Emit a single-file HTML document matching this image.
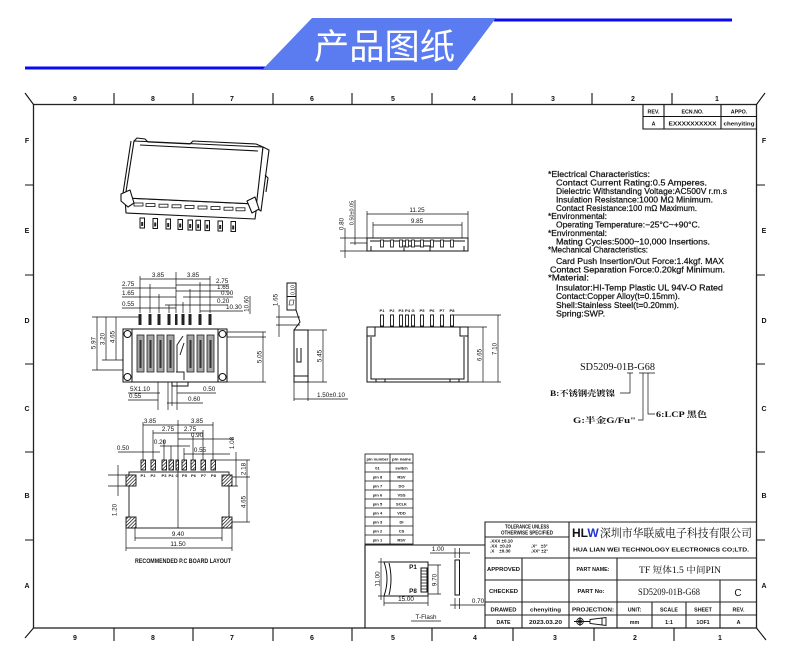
<!DOCTYPE html>
<html><head><meta charset="utf-8">
<style>
html,body{margin:0;padding:0;background:#fff;}
svg{display:block;}
text{font-family:"Liberation Sans","Noto Sans CJK SC",sans-serif;fill:#111;}
.d{font-size:6.3px;}
.s{font-size:8px;}
.s text{stroke:#111;stroke-width:0.22;}
.t{font-size:5.3px;font-weight:bold;text-anchor:middle;}
.p{font-size:4px;font-weight:bold;text-anchor:middle;}
.lbl{font-size:7px;font-weight:bold;text-anchor:middle;}
.ser{font-family:"Liberation Serif","Noto Serif CJK SC",serif;}
.ln{stroke:#111;stroke-width:0.7;fill:none;}
.ob{stroke:#111;stroke-width:1.1;fill:none;}
</style></head><body>
<svg width="790" height="663" viewBox="0 0 790 663" xmlns="http://www.w3.org/2000/svg">
<defs>
<pattern id="h" width="2.4" height="2.4" patternUnits="userSpaceOnUse" patternTransform="rotate(45)">
<rect width="2.4" height="2.4" fill="#fff"/><line x1="0" y1="0" x2="0" y2="2.4" stroke="#000" stroke-width="1.3"/>
</pattern>
</defs>

<!-- HEADER -->
<rect x="25" y="66.5" width="240" height="3" fill="#0a0af2"/>
<rect x="494" y="18.5" width="238" height="3" fill="#0a0af2"/>
<polygon points="262,70 312,18 496,18 457,70" fill="#5b7cf0"/>
<text x="314" y="59" font-size="35" fill="#fff" style="fill:#fff;font-family:'Noto Sans CJK SC',sans-serif" textLength="141" lengthAdjust="spacingAndGlyphs">产品图纸</text>

<!-- FRAME -->
<rect x="33.5" y="104.5" width="723" height="523.5" fill="none" stroke="#222" stroke-width="1.3"/>
<path class="ob" d="M25,93L33.5,104.5 M756.5,104.5L765,93 M33.5,628L25,638 M756.5,628L766,640"/>
<path class="ob" d="M114,93V104 M193,93V104 M273,93V104 M352,93V104 M432,93V104 M512,93V104 M592,93V104 M672,93V104
M114,628V641 M193,628V641 M273,628V641 M352,628V641 M432,628V641 M513,628V641 M594,628V641 M674,628V641
M25,185H33 M25,275H33 M25,364H33 M25,452H33 M25,540H33
M757,185H765 M757,275H765 M757,364H765 M757,452H765 M757,540H765"/>
<g class="lbl">
<text x="75" y="101">9</text><text x="153" y="101">8</text><text x="232" y="101">7</text><text x="312" y="101">6</text><text x="393" y="101">5</text><text x="474" y="101">4</text><text x="553" y="101">3</text><text x="633" y="101">2</text><text x="717" y="101">1</text>
<text x="75" y="640">9</text><text x="153" y="640">8</text><text x="232" y="640">7</text><text x="312" y="640">6</text><text x="393" y="640">5</text><text x="475" y="640">4</text><text x="555" y="640">3</text><text x="635" y="640">2</text><text x="720" y="640">1</text>
<text x="27" y="143">F</text><text x="27" y="233">E</text><text x="27" y="323">D</text><text x="27" y="411">C</text><text x="27" y="498">B</text><text x="27" y="588">A</text>
<text x="764" y="143">F</text><text x="764" y="233">E</text><text x="764" y="323">D</text><text x="764" y="411">C</text><text x="764" y="498">B</text><text x="764" y="588">A</text>
</g>

<!-- REVISION TABLE -->
<path class="ob" d="M643,104.5V129 H757 M643,116.5H757 M664,104.5V129 M721,104.5V129"/>
<text class="t" x="653.5" y="113.5">REV.</text>
<text class="t" x="692.5" y="113.5">ECN.NO.</text>
<text class="t" x="739" y="113.5">APPO.</text>
<text class="t" x="653.5" y="125.5">A</text>
<text class="t" x="692.5" y="125.5" textLength="48" lengthAdjust="spacingAndGlyphs">EXXXXXXXXXX</text>
<text class="t" x="739" y="125.5" textLength="31" lengthAdjust="spacingAndGlyphs">chenyiting</text>

<!-- SPEC TEXT -->
<g class="s">
<text x="548" y="177" textLength="102" lengthAdjust="spacingAndGlyphs">*Electrical Characteristics:</text>
<text x="556" y="185.5" textLength="151" lengthAdjust="spacingAndGlyphs">Contact Current Rating:0.5 Amperes.</text>
<text x="556" y="194" textLength="171" lengthAdjust="spacingAndGlyphs">Dielectric Withstanding Voltage:AC500V r.m.s</text>
<text x="556" y="202.5" textLength="157" lengthAdjust="spacingAndGlyphs">Insulation Resistance:1000 MΩ Minimum.</text>
<text x="556" y="211" textLength="141" lengthAdjust="spacingAndGlyphs">Contact Resistance:100 mΩ Maximum.</text>
<text x="548" y="219" textLength="59" lengthAdjust="spacingAndGlyphs">*Environmental:</text>
<text x="556" y="227.5" textLength="144" lengthAdjust="spacingAndGlyphs">Operating Temperature:−25°C~+90°C.</text>
<text x="548" y="236" textLength="59" lengthAdjust="spacingAndGlyphs">*Environmental:</text>
<text x="556" y="244.5" textLength="154" lengthAdjust="spacingAndGlyphs">Mating Cycles:5000~10,000 Insertions.</text>
<text x="548" y="252.5" textLength="100" lengthAdjust="spacingAndGlyphs">*Mechanical Characteristics:</text>
<text x="556" y="264" textLength="168" lengthAdjust="spacingAndGlyphs">Card Push Insertion/Out Force:1.4kgf. MAX</text>
<text x="550" y="272.5" textLength="175" lengthAdjust="spacingAndGlyphs">Contact Separation Force:0.20kgf Minimum.</text>
<text x="548" y="280.5" textLength="41" lengthAdjust="spacingAndGlyphs">*Material:</text>
<text x="556" y="290.5" textLength="167" lengthAdjust="spacingAndGlyphs">Insulator:HI-Temp Plastic UL 94V-O Rated</text>
<text x="556" y="299" textLength="124" lengthAdjust="spacingAndGlyphs">Contact:Copper Alloy(t=0.15mm).</text>
<text x="556" y="308" textLength="123" lengthAdjust="spacingAndGlyphs">Shell:Stainless Steel(t=0.20mm).</text>
<text x="556" y="316.5" textLength="49" lengthAdjust="spacingAndGlyphs">Spring:SWP.</text>
</g>

<!-- PART NUMBER CALLOUT -->
<text class="ser" x="580" y="370" font-size="10" textLength="75" lengthAdjust="spacingAndGlyphs">SD5209-01B-G68</text>
<path class="ln" d="M627,373H633 M639,373H655 M630,373V393H620 M643,373V420H638 M648,373V414H655"/>
<text class="ser" x="550" y="396" font-size="8" font-weight="bold" textLength="65" lengthAdjust="spacingAndGlyphs">B:不锈钢壳镀镍</text>
<text class="ser" x="573" y="423" font-size="8" font-weight="bold" textLength="63" lengthAdjust="spacingAndGlyphs">G:半金G/Fu"</text>
<text class="ser" x="656" y="417" font-size="8" font-weight="bold" textLength="51" lengthAdjust="spacingAndGlyphs">6:LCP 黑色</text>

<!-- 3D ISO VIEW -->
<g stroke="#111" stroke-width="1.1" fill="#fff" stroke-linejoin="round">
<polygon points="125,198 257,204 255,219 126,213"/>
<polygon points="134,141 263,147 257,204 125,198"/>
<path d="M134,141 L137,138 L145,139 L148,142 L190,144 L193,141 L256,144 L263,147" fill="none"/>
<path d="M140,145 L258,151" fill="none"/>
<path d="M131,141 L122,200" fill="none"/>
<polygon points="263,147 269,150 261,211 256,208"/>
<path d="M265,175 L268,178 L266,192" fill="none"/>
<polygon points="121,194 130,190 134,203 128,207 121,201"/>
<polygon points="247,201 255,197 259,209 252,213"/>
</g>
<g fill="#fff" stroke="#111" stroke-width="0.8">
<rect x="134" y="203" width="9" height="3"/><rect x="146" y="203.6" width="9" height="3"/><rect x="159" y="204.2" width="9" height="3"/><rect x="172" y="204.8" width="9" height="3"/><rect x="185" y="205.4" width="9" height="3"/><rect x="198" y="206" width="9" height="3"/><rect x="211" y="206.6" width="9" height="3"/><rect x="224" y="207.2" width="9" height="3"/><rect x="236" y="207.8" width="9" height="3"/>
</g>
<g fill="#fff" stroke="#111" stroke-width="1">
<rect x="140" y="218" width="4.5" height="10"/><rect x="153" y="218.5" width="4.5" height="10"/><rect x="166" y="219" width="4.5" height="10"/><rect x="178" y="219.5" width="4.5" height="10"/><rect x="188" y="220" width="4.5" height="10"/><rect x="196" y="220.2" width="4.5" height="10"/><rect x="205" y="220.6" width="4.5" height="10"/><rect x="218" y="221" width="4.5" height="10"/><rect x="231" y="221.5" width="4.5" height="10"/>
</g>
<g fill="#222">
<rect x="141.2" y="222" width="2" height="4"/><rect x="154.2" y="222.5" width="2" height="4"/><rect x="167.2" y="223" width="2" height="4"/><rect x="179.2" y="223.5" width="2" height="4"/><rect x="189.2" y="224" width="2" height="4"/><rect x="197.2" y="224.2" width="2" height="4"/><rect x="206.2" y="224.6" width="2" height="4"/><rect x="219.2" y="225" width="2" height="4"/><rect x="232.2" y="225.5" width="2" height="4"/>
</g>

<!-- TOP VIEW -->
<path class="ln" d="M140,313V276 M150,313V284 M159,313V294 M169,313V305 M176,313V272 M183,313V302 M190,313V289 M200,313V282 M210,313V276
M140,279H210 M122,288H176 M176,285H229 M122,297H176 M176,291H229 M183,297H233 M122,308H176 M165,305H228 M200,311H243 M250,296V314
M92,317H140 M102,360H150 M92,370H127 M97,317V370 M106,317V360 M116,317V360
M227,332H266 M227,337H266 M227,382H266 M263,332V382
M158,382V410 M168,382V410 M172,382V406 M177,382V410 M128,393H160 M128,400H158 M177,393H216 M167,403H203"/>
<g class="d">
<text x="158" y="277" text-anchor="middle">3.85</text><text x="193" y="277" text-anchor="middle">3.85</text>
<text x="122" y="286">2.75</text><text x="216" y="283">2.75</text>
<text x="122" y="295">1.65</text><text x="217" y="289">1.65</text>
<text x="221" y="295">0.90</text><text x="122" y="306">0.55</text><text x="217" y="303">0.20</text><text x="226" y="309">10.30</text>
<text transform="rotate(-90 248.5 304)" x="248.5" y="304" text-anchor="middle">10.60</text>
<text transform="rotate(-90 95.5 343)" x="95.5" y="343" text-anchor="middle">5.97</text>
<text transform="rotate(-90 104.5 339)" x="104.5" y="339" text-anchor="middle">3.20</text>
<text transform="rotate(-90 114.5 337)" x="114.5" y="337" text-anchor="middle">4.65</text>
<text transform="rotate(-90 261.5 357)" x="261.5" y="357" text-anchor="middle">5.05</text>
<text x="130" y="391">5X1.10</text><text x="129" y="398">0.55</text>
<text x="203" y="391">0.50</text><text x="188" y="401">0.60</text>
</g>
<g stroke="#111" stroke-width="1" fill="#fff">
<rect x="123" y="329" width="104" height="53"/>
<path d="M132,329V382 M218,329V382 M172,382V386H188V382" fill="none"/>
<circle cx="127.5" cy="334" r="3.5"/><circle cx="127.5" cy="377" r="3.5"/><circle cx="222.5" cy="334" r="3.5"/><circle cx="222.5" cy="377" r="3.5"/>
</g>
<g fill="#a5a5a5" stroke="#222" stroke-width="0.8">
<rect x="137" y="335" width="7" height="37"/><rect x="147" y="335" width="7" height="37"/><rect x="157" y="335" width="7" height="37"/><rect x="167" y="335" width="7" height="37"/><rect x="187" y="335" width="7" height="37"/><rect x="197" y="335" width="7" height="37"/><rect x="207" y="335" width="7" height="37"/>
</g>
<g fill="#333">
<rect x="139.5" y="340" width="2" height="28"/><rect x="149.5" y="340" width="2" height="28"/><rect x="159.5" y="340" width="2" height="28"/><rect x="169.5" y="340" width="2" height="28"/><rect x="189.5" y="340" width="2" height="28"/><rect x="199.5" y="340" width="2" height="28"/><rect x="209.5" y="340" width="2" height="28"/>
</g>
<path stroke="#222" stroke-width="1" fill="none" d="M177,372V345L183,336 M180,355L184,343 M176,372H184V380"/>
<g fill="#222">
<rect x="138.5" y="314" width="3" height="11"/><rect x="148.5" y="314" width="3" height="11"/><rect x="157.5" y="314" width="3" height="11"/><rect x="167.5" y="314" width="3" height="11"/><rect x="175" y="314" width="2.5" height="11"/><rect x="181.5" y="314" width="3" height="11"/><rect x="188.5" y="314" width="3" height="11"/><rect x="198.5" y="314" width="3" height="11"/><rect x="208.5" y="314" width="3" height="11"/>
</g>

<!-- SIDE VIEW -->
<g stroke="#111" stroke-width="1" fill="#fff">
<rect x="294" y="330" width="14" height="52"/>
<rect x="287" y="283" width="9" height="27"/>
<path d="M287,296.5H296 M296,310L300,322L294,330 M297,348V362H301V348 M294,376H308" fill="none"/>
</g>
<path d="M289,305L290,300H294L293,305Z" fill="none" stroke="#111" stroke-width="0.6"/>
<path class="ln" d="M276,317H300 M276,325H300 M279,305V337 M308,330H327 M308,382H327 M323,330V382 M294,382V401 M308,382V401 M294,399H348"/>
<g class="d">
<text transform="rotate(-90 294.5 290)" x="294.5" y="290" text-anchor="middle" font-size="5">0.10</text>
<text transform="rotate(-90 277.5 300)" x="277.5" y="300" text-anchor="middle">1.65</text>
<text transform="rotate(-90 321.5 356)" x="321.5" y="356" text-anchor="middle">5.45</text>
<text x="317" y="397">1.50±0.10</text>
</g>

<!-- FRONT VIEW -->
<path class="ln" d="M367,211V238 M468,211V238 M367,214H468 M373,222V240 M462,222V240 M373,225H462 M340,238H367 M340,251H367 M345,228V258 M355,200V245 M350,243H367"/>
<g class="d">
<text x="417" y="212" text-anchor="middle">11.25</text>
<text x="417" y="223" text-anchor="middle">9.85</text>
<text transform="rotate(-90 343.5 224)" x="343.5" y="224" text-anchor="middle">0.80</text>
<text transform="rotate(-90 353.5 213)" x="353.5" y="213" text-anchor="middle" font-size="5.5">0.50±0.05</text>
</g>
<g stroke="#111" stroke-width="1" fill="#fff">
<rect x="367" y="238" width="101" height="13"/>
<path d="M370,241H465 M371,251V246 M464,251V246 M404,251V246H430V251" fill="none"/>
</g>
<g fill="#fff" stroke="#111" stroke-width="0.8">
<rect x="380.5" y="240" width="3" height="7"/><rect x="390.5" y="240" width="3" height="7"/><rect x="399.5" y="240" width="3" height="7"/><rect x="405.5" y="240" width="3" height="7"/><rect x="411.5" y="240" width="3" height="7"/><rect x="420.5" y="240" width="3" height="7"/><rect x="430.5" y="240" width="3" height="7"/><rect x="440.5" y="240" width="3" height="7"/><rect x="450.5" y="240" width="3" height="7"/>
</g>

<!-- BOTTOM VIEW -->
<g stroke="#111" stroke-width="1" fill="#fff">
<rect x="367" y="327" width="101" height="55"/>
<path d="M371,337V379H464V337 M367,336H375V327 M460,327V336H468 M376,382V379H385V382 M450,382V379H459V382" fill="none"/>
</g>
<g fill="#fff" stroke="#111" stroke-width="0.9">
<rect x="380.5" y="315" width="3" height="11"/><rect x="390.5" y="315" width="3" height="11"/><rect x="399.5" y="315" width="3" height="11"/><rect x="405.5" y="315" width="3" height="11"/><rect x="411.5" y="315" width="3" height="11"/><rect x="420.5" y="315" width="3" height="11"/><rect x="430.5" y="315" width="3" height="11"/><rect x="440.5" y="315" width="3" height="11"/><rect x="450.5" y="315" width="3" height="11"/>
</g>
<g class="p" font-size="4.3">
<text x="382" y="312">P1</text><text x="392" y="312">P2</text><text x="401" y="312">P3</text><text x="407.5" y="312">P4</text><text x="413" y="312">G</text><text x="422" y="312">P5</text><text x="432" y="312">P6</text><text x="442" y="312">P7</text><text x="452" y="312">P8</text>
</g>
<path class="ln" d="M454,315H501 M468,327H487 M468,382H501 M483,327V382 M498,315V382"/>
<g class="d">
<text transform="rotate(-90 481.5 355)" x="481.5" y="355" text-anchor="middle">6.65</text>
<text transform="rotate(-90 496.5 349)" x="496.5" y="349" text-anchor="middle">7.10</text>
</g>

<!-- PCB LAYOUT -->
<path class="ln" d="M178,420V528 M143,460V422 M213,460V422 M153,460V430 M203,460V430 M164,460V440 M193,460V436 M171,460V446 M184,460V448
M143,425H213 M153,433H203 M178,439H233 M160,446H190 M118,452H160 M184,454H230
M215,460H250 M232,477H250 M232,486H238 M232,522H250 M247,460V522 M236,452V486
M108,475H126 M108,486H126 M118,465V496
M126,528V551 M232,528V551 M135,528V541 M222,528V541 M135,538H222 M126,548H232"/>
<rect x="129" y="472" width="100" height="56" fill="none" stroke="#111" stroke-width="0.9"/>
<g fill="url(#h)" stroke="#111" stroke-width="0.9">
<rect x="126" y="475" width="10" height="11"/><rect x="222" y="475" width="10" height="11"/><rect x="126" y="517" width="10" height="11"/><rect x="222" y="517" width="10" height="11"/>
<rect x="141" y="460" width="4.5" height="10"/><rect x="151" y="460" width="4.5" height="10"/><rect x="162" y="460" width="4.5" height="10"/><rect x="169" y="460" width="4.5" height="10"/><rect x="176" y="460" width="2.5" height="10"/><rect x="182" y="460" width="4.5" height="10"/><rect x="191" y="460" width="4.5" height="10"/><rect x="201" y="460" width="4.5" height="10"/><rect x="211" y="460" width="4.5" height="10"/>
</g>
<g class="p" font-size="4.3">
<text x="143" y="477">P1</text><text x="153" y="477">P2</text><text x="164" y="477">P3</text><text x="171" y="477">P4</text><text x="177" y="477">G</text><text x="184.5" y="477">P5</text><text x="193.5" y="477">P6</text><text x="203.5" y="477">P7</text><text x="213.5" y="477">P8</text>
</g>
<g class="d">
<text x="150" y="423" text-anchor="middle">3.85</text><text x="197" y="423" text-anchor="middle">3.85</text>
<text x="168" y="431" text-anchor="middle">2.75</text><text x="190" y="431" text-anchor="middle">2.75</text>
<text x="197" y="437" text-anchor="middle">0.90</text><text x="160" y="444" text-anchor="middle">0.20</text>
<text x="123" y="450" text-anchor="middle">0.50</text><text x="200" y="452" text-anchor="middle">0.55</text>
<text transform="rotate(-90 234 443)" x="234" y="443" text-anchor="middle">1.08</text>
<text transform="rotate(-90 245.5 469)" x="245.5" y="469" text-anchor="middle">2.18</text>
<text transform="rotate(-90 245.5 502)" x="245.5" y="502" text-anchor="middle">4.65</text>
<text transform="rotate(-90 116.5 510)" x="116.5" y="510" text-anchor="middle">1.20</text>
<text x="178" y="536" text-anchor="middle">9.40</text><text x="178" y="546" text-anchor="middle">11.50</text>
</g>
<text x="183" y="563" font-size="6" font-weight="bold" text-anchor="middle" textLength="96" lengthAdjust="spacingAndGlyphs">RECOMMENDED P.C BOARD LAYOUT</text>

<!-- PIN TABLE -->
<g stroke="#111" stroke-width="0.8" fill="none">
<rect x="365" y="454" width="48" height="90"/>
<path d="M390,454V544 M365,463H413 M365,472H413 M365,481H413 M365,490H413 M365,499H413 M365,508H413 M365,517H413 M365,526H413 M365,535H413"/>
</g>
<g class="p">
<text x="377.5" y="460.5" textLength="22" lengthAdjust="spacingAndGlyphs">pin number</text><text x="401.5" y="460.5" textLength="19" lengthAdjust="spacingAndGlyphs">pin name</text>
<text x="377.5" y="469.5">01</text><text x="401.5" y="469.5">switch</text>
<text x="377.5" y="478.5">pin 8</text><text x="401.5" y="478.5">RSV</text>
<text x="377.5" y="487.5">pin 7</text><text x="401.5" y="487.5">DO</text>
<text x="377.5" y="496.5">pin 6</text><text x="401.5" y="496.5">VSS</text>
<text x="377.5" y="505.5">pin 5</text><text x="401.5" y="505.5">SCLK</text>
<text x="377.5" y="514.5">pin 4</text><text x="401.5" y="514.5">VDD</text>
<text x="377.5" y="523.5">pin 3</text><text x="401.5" y="523.5">DI</text>
<text x="377.5" y="532.5">pin 2</text><text x="401.5" y="532.5">CS</text>
<text x="377.5" y="541.5">pin 1</text><text x="401.5" y="541.5">RSV</text>
</g>

<!-- T-FLASH BOX -->
<path class="ob" d="M365,628V545H485"/>
<g stroke="#111" stroke-width="1" fill="#fff">
<path d="M384,562H428V596H384Q390,579 384,562Z"/>
<path d="M389,563Q393,579 389,595" fill="none"/>
<rect x="421" y="568" width="6" height="24"/>
<rect x="455" y="560" width="4.5" height="35"/>
</g>
<path class="ln" d="M421,571H427 M421,574H427 M421,577H427 M421,580H427 M421,583H427 M421,586H427 M421,589H427
M378,562H384 M378,596H384 M381,558V600 M438,565V594 M428,565H441 M428,594H441
M384,596V606 M428,596V606 M384,603H428 M430,553H470 M455,548V558 M459.5,548V558 M450,605H485 M455,598V609 M459.5,598V609"/>
<g class="d">
<text x="438" y="551" text-anchor="middle">1.00</text>
<text transform="rotate(-90 379.5 579)" x="379.5" y="579" text-anchor="middle">11.00</text>
<text transform="rotate(-90 436.5 580)" x="436.5" y="580" text-anchor="middle">9.70</text>
<text x="406" y="601" text-anchor="middle">15.00</text>
<text x="478" y="603" text-anchor="middle">0.70</text>
<text x="413" y="569" font-weight="bold" text-anchor="middle">P1</text>
<text x="413" y="593" font-weight="bold" text-anchor="middle">P8</text>
</g>
<text x="426" y="619" font-size="6.3" text-anchor="middle">T-Flash</text>
<path class="ln" d="M411,621H441"/>

<!-- TITLE BLOCK -->
<g stroke="#222" stroke-width="1.1" fill="none">
<path d="M485,628V522H757 M485,558H757 M485,580H757 M485,602H757 M485,615H757 M569,522V628 M522,558V628 M617,558V628 M720,580V628 M652,602V628 M686,602V628 M485,537H569"/>
</g>
<text class="t" x="527" y="528.5" font-size="4.5" textLength="44" lengthAdjust="spacingAndGlyphs">TOLERANCE UNLESS</text>
<text class="t" x="527" y="534.5" font-size="4.5" textLength="52" lengthAdjust="spacingAndGlyphs">OTHERWISE SPECIFIED</text>
<g font-size="4.5" font-weight="bold">
<text x="490" y="542.5">.XXX ±0.10</text><text x="490" y="547.5">.XX&#160;&#160;±0.20</text><text x="490" y="552.5">.X&#160;&#160;&#160;&#160;±0.30</text>
<text x="531" y="547.5">.X°&#160;&#160;&#160;±3°</text><text x="531" y="552.5">.XX°&#160;±2°</text>
</g>
<text x="572" y="537" font-size="12" font-weight="bold">H<tspan>L</tspan><tspan style="fill:#2233cc">W</tspan></text>
<text class="ser" x="600" y="537" font-size="11.5" textLength="152" lengthAdjust="spacingAndGlyphs">深圳市华联威电子科技有限公司</text>
<text x="573" y="551.5" font-size="5.5" font-weight="bold" textLength="176" lengthAdjust="spacingAndGlyphs">HUA LIAN WEI TECHNOLOGY ELECTRONICS CO;LTD.</text>
<text class="t" x="503.5" y="571" textLength="33" lengthAdjust="spacingAndGlyphs">APPROVED</text>
<text class="t" x="593" y="571" textLength="33" lengthAdjust="spacingAndGlyphs">PART NAME:</text>
<text class="ser" x="680" y="573" font-size="9" text-anchor="middle" textLength="82" lengthAdjust="spacingAndGlyphs">TF 短体1.5 中间PIN</text>
<text class="t" x="503.5" y="593" textLength="29" lengthAdjust="spacingAndGlyphs">CHECKED</text>
<text class="t" x="591" y="593" textLength="27" lengthAdjust="spacingAndGlyphs">PART No:</text>
<text class="ser" x="669" y="595" font-size="9" text-anchor="middle" textLength="62" lengthAdjust="spacingAndGlyphs">SD5209-01B-G68</text>
<text x="738" y="596" font-size="10" text-anchor="middle">C</text>
<text class="t" x="503.5" y="611.5" textLength="26" lengthAdjust="spacingAndGlyphs">DRAWED</text>
<text class="t" x="545.5" y="611.5" textLength="31" lengthAdjust="spacingAndGlyphs">chenyiting</text>
<text class="t" x="593" y="611.5" textLength="42" lengthAdjust="spacingAndGlyphs">PROJECTION:</text>
<text class="t" x="634.5" y="611.5">UNIT:</text>
<text class="t" x="669" y="611.5">SCALE</text>
<text class="t" x="703" y="611.5">SHEET</text>
<text class="t" x="738.5" y="611.5">REV.</text>
<text class="t" x="503.5" y="624">DATE</text>
<text class="t" x="545.5" y="624" textLength="33" lengthAdjust="spacingAndGlyphs">2023.03.20</text>
<text class="t" x="634.5" y="624">mm</text>
<text class="t" x="669" y="624">1:1</text>
<text class="t" x="703" y="624">1OF1</text>
<text class="t" x="738.5" y="624">A</text>
<g stroke="#111" stroke-width="0.9" fill="none">
<circle cx="580" cy="621.5" r="3.3"/><circle cx="580" cy="621.5" r="1.5"/>
<path d="M574,621.5H586 M580,617V626 M586,621.5H590 M590,619.5L606,617.5V625.5L590,623.5Z M602,618V625"/>
</g>
</svg>
</body></html>
